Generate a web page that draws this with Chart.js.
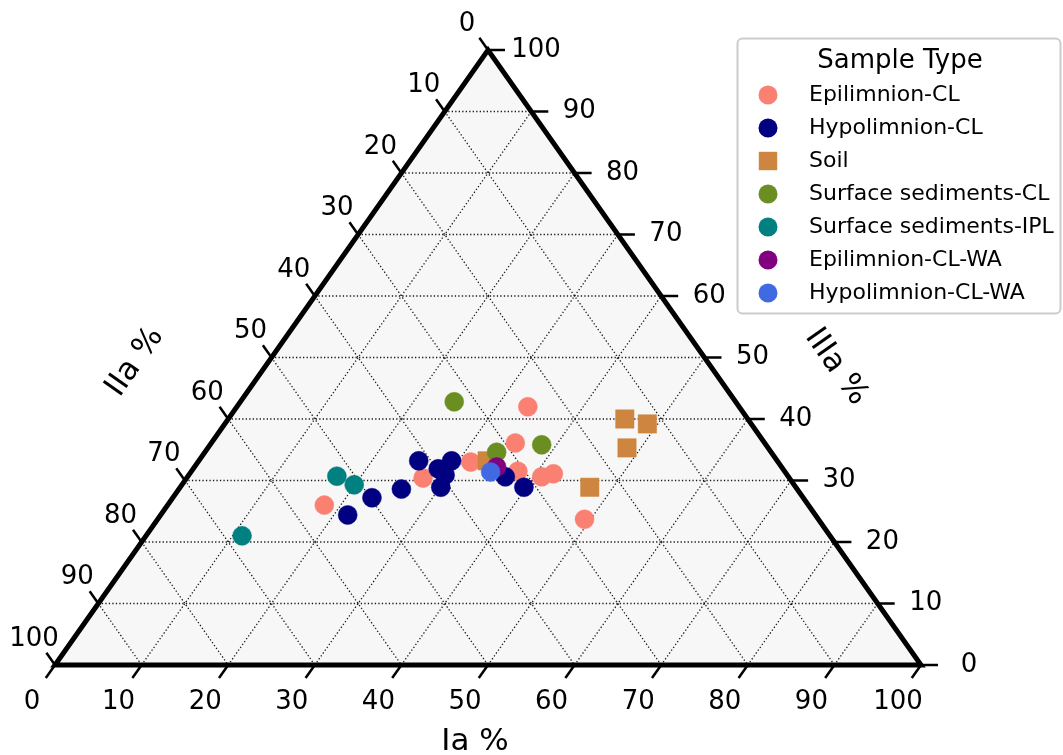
<!DOCTYPE html>
<html lang="en">
<head>
    <meta charset="UTF-8">
    <title>Ternary plot - Sample Type</title>
    <script src="https://cdn.jsdelivr.net/npm/chart.js"></script>
    <style>
        body {
            margin: 0;
            background-color: #ffffff;
            font-family: "DejaVu Sans", sans-serif;
        }

        .chart-container {
            position: relative;
            width: 1063px;
            height: 755px;
        }
    </style>
</head>
<body>
    <div class="chart-container">
        <canvas id="ternaryChart"></canvas>
    </div>

    <script>
        // each sample is [Ia, IIa, IIIa] in %
        var epilimnionCL = [
            [18.1, 55.9, 26.0], [27.3, 42.3, 30.4], [31.5, 35.5, 33.0],
            [33.6, 24.4, 42.0], [35.1, 28.8, 36.1], [37.7, 30.8, 31.5],
            [40.9, 28.5, 30.6], [42.0, 26.9, 31.1], [49.3, 27.0, 23.7]
        ];
        var hypolimnionCL = [
            [21.6, 54.0, 24.4], [23.0, 49.8, 27.2], [25.7, 45.7, 28.6],
            [25.4, 41.4, 33.2], [28.3, 39.8, 31.9], [29.2, 37.6, 33.2],
            [29.6, 39.5, 30.9], [30.1, 41.0, 28.9], [36.7, 32.7, 30.6],
            [39.7, 31.4, 28.9]
        ];
        var soil = [
            [33.3, 33.5, 33.2], [45.8, 14.2, 40.0], [48.8, 12.0, 39.2],
            [48.4, 16.3, 35.3], [47.3, 23.8, 28.9]
        ];
        var surfaceSedCL = [
            [24.7, 32.5, 42.8], [33.7, 31.7, 34.6], [38.3, 25.9, 35.8]
        ];
        var surfaceSedIPL = [
            [17.2, 52.1, 30.7], [19.9, 50.8, 29.3], [11.1, 67.9, 21.0]
        ];
        var epilimnionCLWA = [[34.9, 32.9, 32.2]];
        var hypolimnionCLWA = [[34.6, 34.0, 31.4]];

        var seriesNames = ['Epilimnion-CL', 'Hypolimnion-CL', 'Soil', 'Surface sediments-CL',
            'Surface sediments-IPL', 'Epilimnion-CL-WA', 'Hypolimnion-CL-WA'];
        var seriesData = [epilimnionCL, hypolimnionCL, soil, surfaceSedCL,
            surfaceSedIPL, epilimnionCLWA, hypolimnionCLWA];
        var seriesColors = ['#fa8072', '#000080', '#cd853f', '#6b8e23', '#008080', '#800080', '#4169e1'];
        var seriesShapes = ['circle', 'circle', 'rect', 'circle', 'circle', 'circle', 'circle'];

        var tickValues = [0, 10, 20, 30, 40, 50, 60, 70, 80, 90, 100];
        var legendTitle = 'Sample Type';

        // ternary -> cartesian (base 0..100, height 0..100)
        function toXY(p) {
            return { x: p[0] + p[2] / 2, y: p[2] };
        }

        var datasets = seriesData.map(function (rows, i) {
            return {
                label: seriesNames[i],
                data: rows.map(toXY),
                backgroundColor: seriesColors[i],
                borderColor: seriesColors[i],
                borderWidth: 0.5,
                pointStyle: seriesShapes[i],
                pointRadius: seriesShapes[i] === 'rect' ? 13 : 9.5,
                order: seriesData.length - i
            };
        });

        function drawMarker(ctx, shape, color, x, y) {
            ctx.fillStyle = color;
            ctx.beginPath();
            if (shape === 'rect') {
                ctx.rect(x - 9.2, y - 9.2, 18.4, 18.4);
            } else {
                ctx.arc(x, y, 9.5, 0, Math.PI * 2);
            }
            ctx.fill();
        }

        // triangle, grid, ticks, labels and legend
        var ternaryAxes = {
            id: 'ternaryAxes',
            beforeDatasetsDraw: function (chart) {
                var ctx = chart.ctx;
                var xs = chart.scales.x, ys = chart.scales.y;
                function px(a, b, c) {
                    var q = toXY([a, b, c]);
                    return [xs.getPixelForValue(q.x), ys.getPixelForValue(q.y)];
                }
                function line(p, q) {
                    ctx.beginPath();
                    ctx.moveTo(p[0], p[1]);
                    ctx.lineTo(q[0], q[1]);
                    ctx.stroke();
                }
                var BL = px(0, 100, 0), BR = px(100, 0, 0), T = px(0, 0, 100);

                ctx.save();
                ctx.fillStyle = '#f7f7f7';
                ctx.beginPath();
                ctx.moveTo(BL[0], BL[1]);
                ctx.lineTo(BR[0], BR[1]);
                ctx.lineTo(T[0], T[1]);
                ctx.closePath();
                ctx.fill();

                // dotted grid
                ctx.strokeStyle = 'rgba(0,0,0,0.9)';
                ctx.lineWidth = 1.3;
                ctx.setLineDash([1.3, 2.2]);
                for (var k = 10; k < 100; k += 10) {
                    line(px(0, 100 - k, k), px(100 - k, 0, k));
                    line(px(k, 100 - k, 0), px(k, 0, 100 - k));
                    line(px(0, k, 100 - k), px(100 - k, k, 0));
                }
                ctx.setLineDash([]);

                // ticks
                var dl = [T[0] - BR[0], T[1] - BR[1]];
                var db = [BL[0] - T[0], BL[1] - T[1]];
                var nl = Math.hypot(dl[0], dl[1]), nb = Math.hypot(db[0], db[1]);
                dl = [dl[0] / nl, dl[1] / nl];
                db = [db[0] / nb, db[1] / nb];
                ctx.strokeStyle = '#000';
                ctx.lineWidth = 2.5;
                tickValues.forEach(function (v) {
                    var pb = px(v, 100 - v, 0);
                    line(pb, [pb[0] + db[0] * 16, pb[1] + db[1] * 16]);
                    var pr = px(100 - v, 0, v);
                    line(pr, [pr[0] + 17, pr[1]]);
                    var pl = px(0, v, 100 - v);
                    line(pl, [pl[0] + dl[0] * 15, pl[1] + dl[1] * 15]);
                });

                // frame
                ctx.lineWidth = 5;
                ctx.lineJoin = 'miter';
                ctx.beginPath();
                ctx.moveTo(BL[0], BL[1]);
                ctx.lineTo(BR[0], BR[1]);
                ctx.lineTo(T[0], T[1]);
                ctx.closePath();
                ctx.stroke();
                ctx.restore();
            },
            afterDraw: function (chart) {
                var ctx = chart.ctx;
                var xs = chart.scales.x, ys = chart.scales.y;
                function px(a, b, c) {
                    var q = toXY([a, b, c]);
                    return [xs.getPixelForValue(q.x), ys.getPixelForValue(q.y)];
                }
                var BL = px(0, 100, 0), BR = px(100, 0, 0), T = px(0, 0, 100);

                ctx.save();
                ctx.fillStyle = '#000';
                ctx.textAlign = 'center';
                ctx.textBaseline = 'middle';
                ctx.font = '26px "DejaVu Sans"';
                tickValues.forEach(function (v) {
                    var pb = px(v, 100 - v, 0);
                    ctx.fillText(String(v), pb[0] - 23, pb[1] + 37);
                    var pr = px(100 - v, 0, v);
                    ctx.fillText(String(v), pr[0] + 48, pr[1]);
                    var pl = px(0, v, 100 - v);
                    ctx.fillText(String(v), pl[0] - 21, pl[1] - 26);
                });

                // axis titles
                ctx.font = '31px "DejaVu Sans"';
                ctx.fillText('Ia %', 475, 742);

                ctx.save();
                ctx.translate(135, 362);
                ctx.rotate(Math.atan2(T[1] - BL[1], T[0] - BL[0]));
                ctx.fillText('IIa %', 0, 0);
                ctx.restore();

                ctx.save();
                ctx.translate(836, 367);
                ctx.rotate(Math.atan2(BR[1] - T[1], BR[0] - T[0]));
                ctx.fillText('IIIa %', 0, 0);
                ctx.restore();

                // legend
                ctx.fillStyle = 'rgba(255,255,255,0.85)';
                ctx.strokeStyle = '#cccccc';
                ctx.lineWidth = 2;
                ctx.beginPath();
                ctx.roundRect(737.5, 38.5, 323, 275, 5);
                ctx.fill();
                ctx.stroke();

                ctx.fillStyle = '#000';
                ctx.font = '26px "DejaVu Sans"';
                ctx.fillText(legendTitle, 900, 61);

                ctx.textAlign = 'left';
                ctx.font = '22px "DejaVu Sans"';
                chart.data.datasets.forEach(function (ds, i) {
                    var y = 95 + 33 * i;
                    drawMarker(ctx, seriesShapes[i], ds.backgroundColor, 768, y);
                    ctx.fillStyle = '#000';
                    ctx.fillText(ds.label, 809, y);
                });
                ctx.restore();
            }
        };

        var ctx = document.getElementById('ternaryChart').getContext('2d');
        var ternaryChart = new Chart(ctx, {
            type: 'scatter',
            data: { datasets: datasets },
            options: {
                responsive: true,
                maintainAspectRatio: false,
                animation: false,
                layout: {
                    padding: { left: 55, right: 142, top: 50, bottom: 90 }
                },
                scales: {
                    x: { type: 'linear', min: 0, max: 100, display: false },
                    y: { type: 'linear', min: 0, max: 100, display: false }
                },
                plugins: {
                    legend: { display: false },
                    tooltip: { enabled: false }
                }
            },
            plugins: [ternaryAxes]
        });
    </script>
</body>
</html>
